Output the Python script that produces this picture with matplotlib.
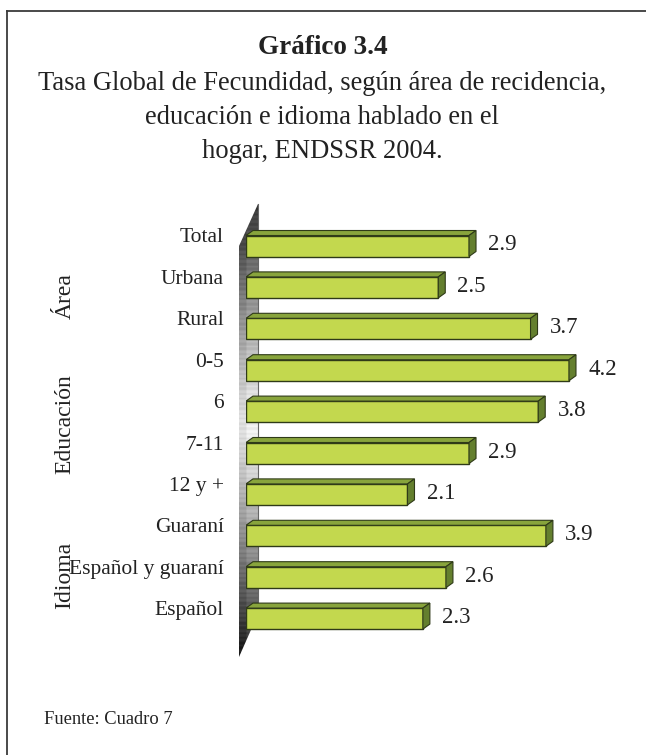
import numpy as np
import matplotlib
matplotlib.use("Agg")
import matplotlib.pyplot as plt
from matplotlib.patches import Polygon
from matplotlib.lines import Line2D

plt.rcParams['font.family'] = ['Liberation Serif', 'DejaVu Serif']

# ---------------- data ----------------
categories = ["Total", "Urbana", "Rural", "0-5", "6", "7-11", "12 y +",
              "Guaraní", "Español y guaraní", "Español"]
values = [2.9, 2.5, 3.7, 4.2, 3.8, 2.9, 2.1, 3.9, 2.6, 2.3]
value_labels = ["2.9", "2.5", "3.7", "4.2", "3.8", "2.9", "2.1", "3.9", "2.6", "2.3"]
groups = ["Área", "Educación", "Idioma"]
title = "Gráfico 3.4"
subtitle = ["Tasa Global de Fecundidad, según área de recidencia,",
            "educación e idioma hablado en el",
            "hogar, ENDSSR 2004."]
source = "Fuente: Cuadro 7"

# ---------------- figure ----------------
W, H = 646, 755
fig = plt.figure(figsize=(W / 100, H / 100), dpi=100)
fig.patch.set_facecolor("white")

def fx(px):
    return px / W

def fy(py):
    return 1 - py / H

# overlay axes in pixel coordinates for decoration
deco = fig.add_axes([0, 0, 1, 1])
deco.set_xlim(0, W)
deco.set_ylim(H, 0)
deco.axis("off")

# frame
deco.add_line(Line2D([7, 7], [11, H], color="#3a3a3a", lw=1.3))
deco.add_line(Line2D([7, W], [11, 11], color="#3a3a3a", lw=1.3))

# wall (3D axis wall) with gradient
wall = [(239, 246), (258, 204), (258, 614), (239, 657)]
yy = np.linspace(200, 660, 300)
xx = np.linspace(236, 260, 48)
X, Y = np.meshgrid(xx, yy)
t = np.clip(np.abs(Y - 425) / 230, 0, 1)
bright = 0.97 - 0.78 * t ** 1.2
bright = bright - np.where(X < 246.5, 0.07, 0.0)
stripes = 0.05 * (np.floor(Y / 2.5) % 2)
bright = np.clip(bright - stripes, 0, 1)
img = deco.imshow(bright, cmap="gray", vmin=0, vmax=1,
                  extent=(236, 260, 660, 200), aspect="auto", zorder=1,
                  interpolation="bilinear")
wp = Polygon(wall, closed=True, facecolor="none", edgecolor="none")
deco.add_patch(wp)
img.set_clip_path(wp)
deco.add_line(Line2D([258, 258], [204, 614], color="#666666", lw=0.8, zorder=2))
deco.set_xlim(0, W)
deco.set_ylim(H, 0)

# ---------------- bar axes ----------------
px_unit = 76.9            # pixels per unit on x
py_cat = 41.4             # pixels per category
x0_px = 246
y0_px = 246               # centre of first bar
ax_top, ax_bot = 200, 670
ax = fig.add_axes([fx(x0_px), fy(ax_bot), fx(W - x0_px), (ax_bot - ax_top) / H])
ax.set_xlim(0, (W - x0_px) / px_unit)
ax.set_ylim((ax_bot - y0_px) / py_cat, (ax_top - y0_px) / py_cat)
ax.axis("off")
ax.patch.set_alpha(0)

n = len(categories)
pos = np.arange(n)
bh = 21 / py_cat
dx = 7 / px_unit
dy = 5 / py_cat

front_c = "#c3d84e"
top_c = "#88a43c"
side_c = "#647f2e"
edge_c = "#2f3a18"

ax.barh(pos, values, height=bh, color=front_c, edgecolor=edge_c, linewidth=1.0, zorder=3)
for i, v in enumerate(values):
    top = i - bh / 2
    bot = i + bh / 2
    ax.add_patch(Polygon([(0, top), (v, top), (v + dx, top - dy), (dx, top - dy)],
                         closed=True, facecolor=top_c, edgecolor=edge_c, lw=0.8, zorder=3))
    ax.add_patch(Polygon([(v, top), (v + dx, top - dy), (v + dx, bot - dy), (v, bot)],
                         closed=True, facecolor=side_c, edgecolor=edge_c, lw=0.8, zorder=3))
    ax.text(v + 0.25, i - 1 / py_cat, value_labels[i], ha="left", va="center",
            fontsize=16.5, color="#222222", zorder=4)
    ax.text(-22 / px_unit, i - 8 / py_cat, categories[i], ha="right", va="center",
            fontsize=15.5, color="#222222", clip_on=False)

# group labels
group_pos_px = [(65, 296), (65, 424), (65, 575)]
for g, (gx, gy) in zip(groups, group_pos_px):
    fig.text(fx(gx), fy(gy), g, rotation=90, ha="center", va="center",
             fontsize=17, color="#222222")

# titles
fig.text(fx(323), fy(47), title, ha="center", va="center", fontsize=19.5,
         fontweight="bold", color="#222222")
for k, line in enumerate(subtitle):
    fig.text(fx(322), fy(83 + 34.5 * k), line, ha="center", va="center",
             fontsize=19.1, color="#222222")

fig.text(fx(44), fy(720), source, ha="left", va="center", fontsize=13.3, color="#222222")

fig.savefig("out.png", dpi=100, facecolor="white")
